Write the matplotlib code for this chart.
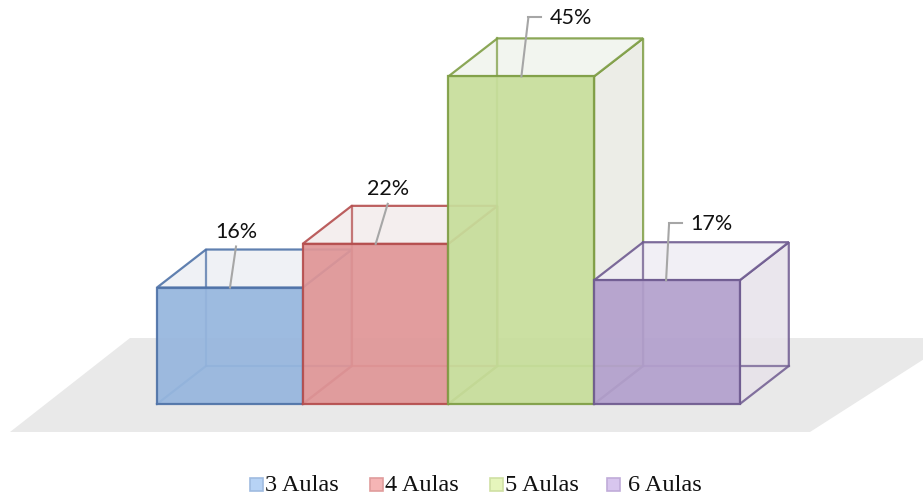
import matplotlib
matplotlib.use("Agg")
import matplotlib.pyplot as plt
from matplotlib.patches import Polygon, Rectangle

# Share of respondents by number of classes
categories = ["3 Aulas", "4 Aulas", "5 Aulas", "6 Aulas"]
values = [16, 22, 45, 17]
labels = ["16%", "22%", "45%", "17%"]

front_colors = ["#96b6de", "#e09697", "#c7de9b", "#b3a0cd"]
edge_colors = ["#4f73a8", "#b54e4e", "#7f9e45", "#6f5b90"]
top_colors = ["#eef0f4", "#f3eded", "#f1f4ee", "#f0eef4"]
side_colors = ["#e6e8ec", "#ebe5e5", "#e9eae3", "#e7e2ea"]
legend_colors = ["#b7d3f5", "#f5b5b5", "#e6f5bc", "#d8c6ee"]
legend_edges = ["#9fbbe0", "#e09c9c", "#cfe0a3", "#c0acd9"]

W, H = 923, 497
fig = plt.figure(figsize=(W / 100, H / 100), dpi=100)
ax = fig.add_axes([0, 0, 1, 1])

# pixel scale of the data axes
px_x = 145.7          # pixels per category unit
px_y = 7.28           # pixels per percent
x0_px, base_px = 157, 404
ax.set_xlim(-0.5 - x0_px / px_x, -0.5 + (W - x0_px) / px_x)
ax.set_ylim(-(H - base_px) / px_y, base_px / px_y)
ax.axis("off")

dx = 49 / px_x        # depth offset of the 3D boxes
dy = 38 / px_y

# floor
fy0 = -28 / px_y
fy1 = 66 / px_y
floor = Polygon([(-0.5 - 147 / px_x, fy0), (-0.5 + 653 / px_x, fy0),
                 (-0.5 + 800 / px_x, fy1), (-0.5 - 27 / px_x, fy1)],
                closed=True, facecolor="#e9e9e9", edgecolor="none", zorder=0)
ax.add_patch(floor)

lw = 1.6
for i, v in enumerate(values):
    l, r = i - 0.5, i + 0.5
    ec = edge_colors[i]
    z = 2 + i * 0.1
    # right side face
    ax.add_patch(Polygon([(r, 0), (r + dx, dy), (r + dx, v + dy), (r, v)],
                         closed=True, facecolor=side_colors[i], alpha=0.85,
                         edgecolor=ec, lw=lw, zorder=z))
    # top face
    ax.add_patch(Polygon([(l, v), (r, v), (r + dx, v + dy), (l + dx, v + dy)],
                         closed=True, facecolor=top_colors[i], alpha=0.9,
                         edgecolor=ec, lw=lw, zorder=z))
    # hidden back edges
    ax.plot([l + dx, l + dx, r + dx], [v + dy, dy, dy], color=ec, lw=lw,
            alpha=0.75, zorder=z)
    ax.plot([l, l + dx], [0, dy], color=ec, lw=lw, alpha=0.75, zorder=z)
    # front face
    ax.add_patch(Polygon([(l, 0), (r, 0), (r, v), (l, v)], closed=True,
                         facecolor=front_colors[i], alpha=0.93,
                         edgecolor=ec, lw=lw, zorder=z + 0.05))

# data labels with leader lines
label_font = dict(family=["Lato", "DejaVu Sans"], fontsize=15.5, color="#111111")
leaders = [
    # (start from left edge px, end offset x px, end offset y px, hook)
    (73, 6, 41, False),
    (73, 12, 40, False),
    (73, 7, 59, True),
    (72, 3, 57, True),
]
for i, v in enumerate(values):
    sx_px, ex_px, ey_px, hook = leaders[i]
    sx = i - 0.5 + sx_px / px_x
    ex = sx + ex_px / px_x
    ey = v + ey_px / px_y
    ax.plot([sx, ex], [v, ey], color="#a6a6a6", lw=1.5, zorder=10)
    if hook:
        hx = ex + 13 / px_x
        ax.plot([ex, hx], [ey, ey], color="#a6a6a6", lw=1.5, zorder=10)
        ax.text(hx + 8 / px_x, ey - 1 / px_y, labels[i], ha="left",
                va="center", zorder=11, **label_font)
    else:
        ax.text(ex, ey + 5 / px_y, labels[i], ha="center",
                va="bottom", zorder=11, **label_font)

# legend drawn in figure pixel coordinates
lax = fig.add_axes([0, 0, 1, 1], facecolor="none")
lax.set_xlim(0, W)
lax.set_ylim(H, 0)
lax.axis("off")
legend_x = [250, 370, 490, 607]
legend_text_x = [265, 385, 505, 628]
legend_base = 491
for i, name in enumerate(categories):
    lax.add_patch(Rectangle((legend_x[i], legend_base - 13), 13, 13,
                            facecolor=legend_colors[i],
                            edgecolor=legend_edges[i], lw=1.2))
    lax.text(legend_text_x[i], legend_base, name, ha="left", va="baseline",
             family="Liberation Serif", fontsize=17.5, color="#111111")

fig.savefig("out.png", dpi=100)
